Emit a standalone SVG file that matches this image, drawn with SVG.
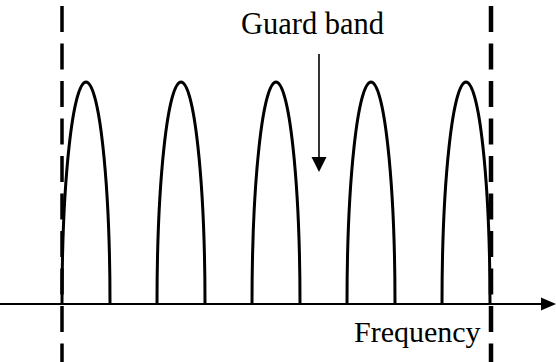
<svg xmlns="http://www.w3.org/2000/svg" width="556" height="362" viewBox="0 0 556 362">
  <style>
    .hump { fill: none; stroke: #000; stroke-width: 3; }
    .dash { stroke: #000; stroke-dasharray: 26 11.5; fill: none; }
  </style>
  <rect width="556" height="362" fill="#fff"/>
  <g id="band-edges">
    <line class="dash" x1="62" y1="6" x2="62" y2="362" stroke-width="3.5"/>
    <line class="dash" x1="491" y1="6" x2="491" y2="362" stroke-width="4.5"/>
  </g>
  <g id="subcarriers">
    <path class="hump" d="M62 304 A24 222 0 0 1 110 304"/>
    <path class="hump" d="M157 304 A24 222 0 0 1 205 304"/>
    <path class="hump" d="M252 304 A24 222 0 0 1 300 304"/>
    <path class="hump" d="M347 304 A24 222 0 0 1 395 304"/>
    <path class="hump" d="M442 304 A24 222 0 0 1 490 304"/>
  </g>
  <g id="connectors">
    <g id="frequency-axis">
      <line x1="0" y1="304" x2="543" y2="304" stroke="#000" stroke-width="2.2"/>
      <polygon points="541,297.5 556,304 541,310.5" fill="#000"/>
    </g>
    <g id="guard-arrow">
      <line x1="319" y1="54" x2="319" y2="160" stroke="#000" stroke-width="1.6"/>
      <polygon points="311.5,157 326.5,157 319,172" fill="#000"/>
    </g>
  </g>
  <g id="guard-band-label">
    <text x="312.5" y="34" text-anchor="middle" font-family="'Liberation Serif', 'Times New Roman', serif" font-size="30.5" fill="#000">Guard band</text>
  </g>
  <g id="frequency-label">
    <text x="354" y="342" font-family="'Liberation Serif', 'Times New Roman', serif" font-size="30" fill="#000">Frequency</text>
  </g>
</svg>
